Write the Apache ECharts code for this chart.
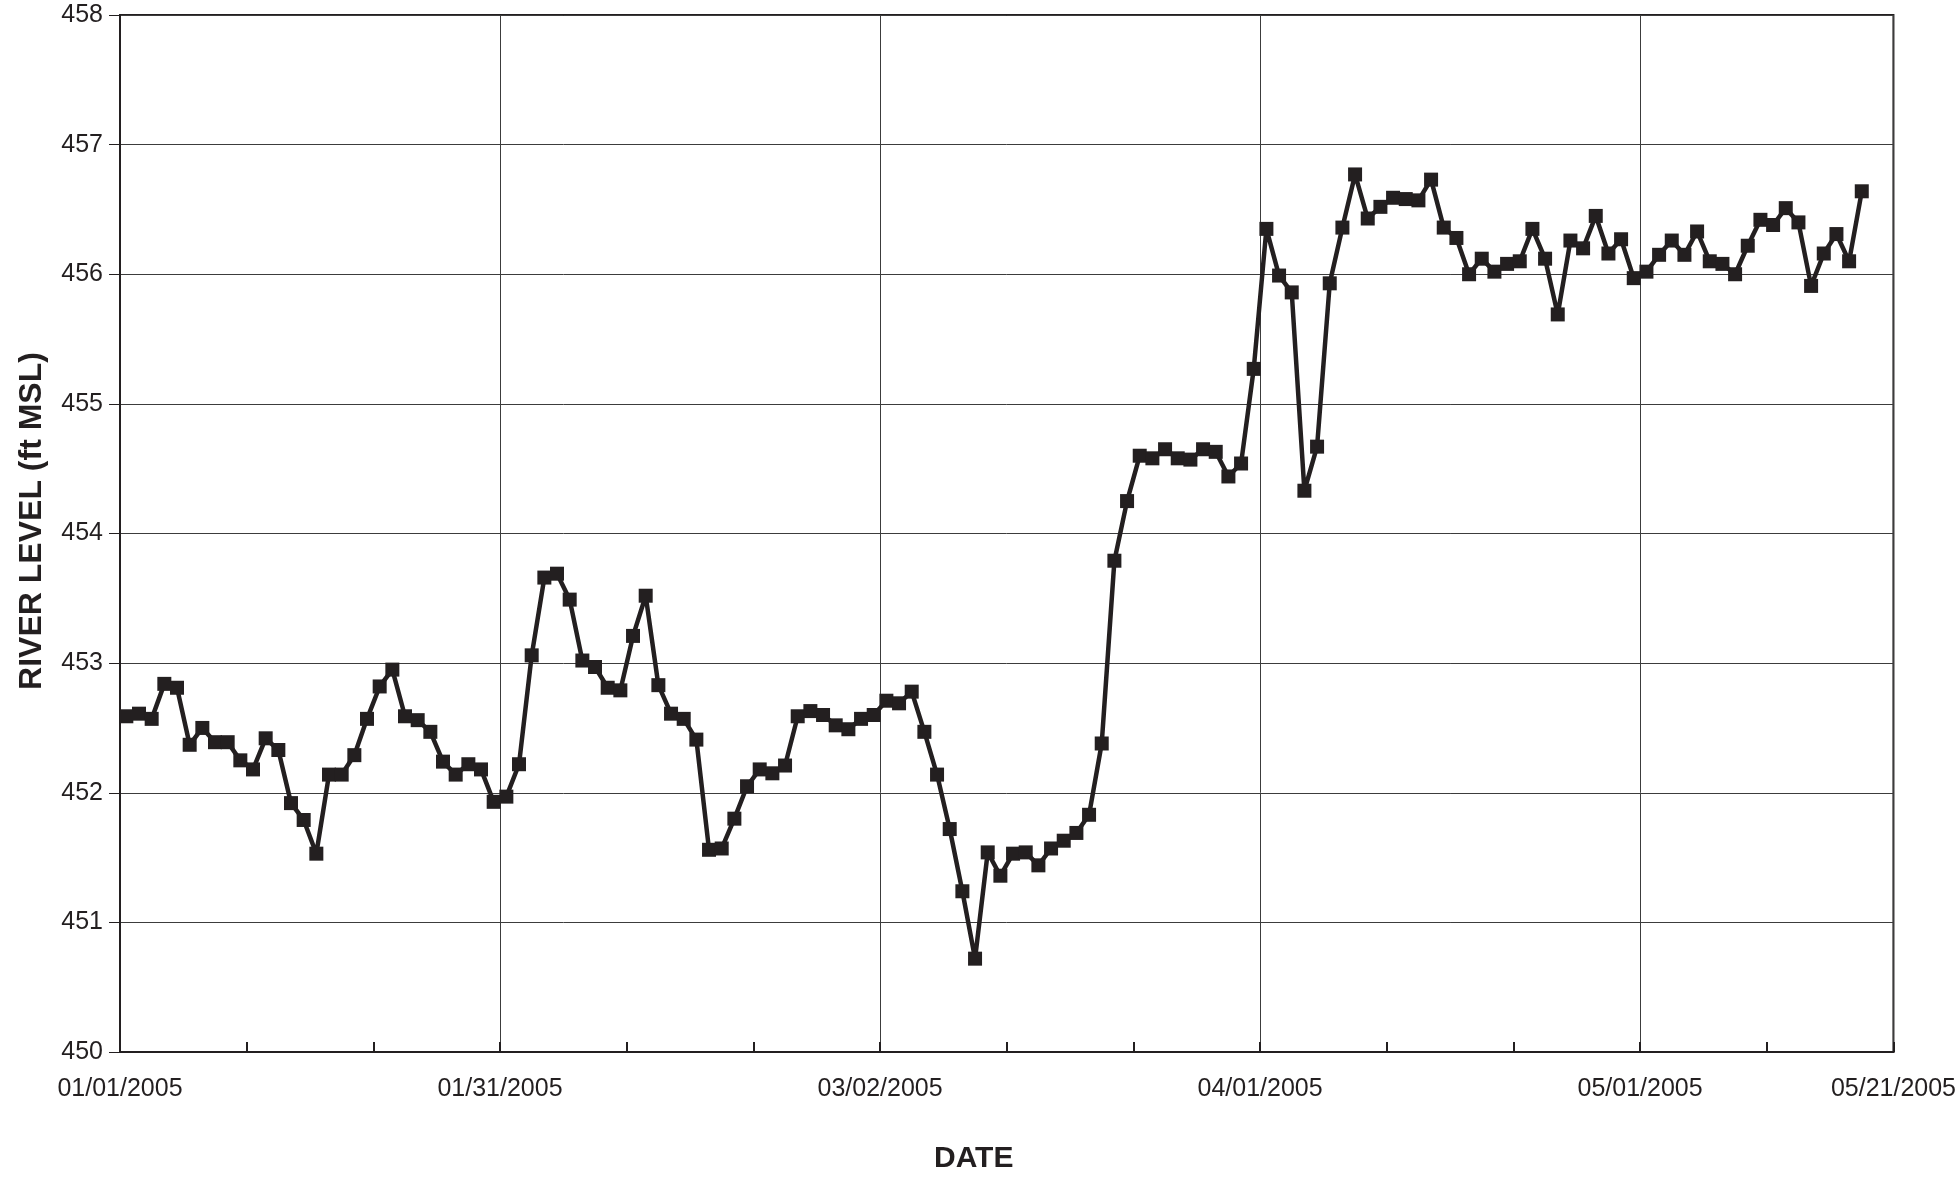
<!DOCTYPE html>
<html>
<head>
<meta charset="utf-8">
<title>River Level</title>
<script src="https://cdn.jsdelivr.net/npm/echarts@6/dist/echarts.min.js"></script>
<style>
  html, body { margin: 0; padding: 0; background: #ffffff; overflow: hidden; }
  #chart { width: 1959px; height: 1179px; }
</style>
</head>
<body>
<div id="chart"></div>
<script>
// Daily river level readings (ft MSL), one value per day starting 01/01/2005
const janLevels = [452.59, 452.61, 452.57, 452.84, 452.81, 452.37, 452.50, 452.39, 452.39, 452.25,
                   452.18, 452.42, 452.33, 451.92, 451.79, 451.53, 452.14, 452.14, 452.29, 452.57,
                   452.82, 452.95, 452.59, 452.56, 452.47, 452.24, 452.14, 452.22, 452.18, 451.93,
                   451.97];
const febLevels = [452.22, 453.06, 453.66, 453.69, 453.49, 453.02, 452.97, 452.81, 452.79, 453.21,
                   453.52, 452.83, 452.61, 452.57, 452.41, 451.56, 451.57, 451.80, 452.05, 452.18,
                   452.15, 452.21, 452.59, 452.63, 452.60, 452.52, 452.49, 452.57];
const marLevels = [452.60, 452.71, 452.69, 452.78, 452.47, 452.14, 451.72, 451.24, 450.72, 451.54,
                   451.36, 451.53, 451.54, 451.44, 451.57, 451.63, 451.69, 451.83, 452.38, 453.79,
                   454.25, 454.60, 454.58, 454.65, 454.58, 454.57, 454.65, 454.63, 454.44, 454.54,
                   455.27];
const aprLevels = [456.35, 455.99, 455.86, 454.33, 454.67, 455.93, 456.36, 456.77, 456.43, 456.52,
                   456.59, 456.58, 456.57, 456.73, 456.36, 456.28, 456.00, 456.12, 456.02, 456.08,
                   456.10, 456.35, 456.12, 455.69, 456.26, 456.20, 456.45, 456.16, 456.27, 455.97];
const mayLevels = [456.02, 456.15, 456.26, 456.15, 456.33, 456.10, 456.08, 456.00, 456.22, 456.42,
                   456.38, 456.51, 456.40, 455.91, 456.16, 456.31, 456.10, 456.64];

// Date axis: days since 01/01/2005, labelled every 30 days plus the end date
const tickDays = [0, 30, 60, 90, 120, 140];
const tickLabels = ['01/01/2005', '01/31/2005', '03/02/2005', '04/01/2005', '05/01/2005', '05/21/2005'];

// Level axis
const levelMin = 450;
const levelMax = 458;

const levels = [].concat(janLevels, febLevels, marLevels, aprLevels, mayLevels);
// each reading sits at the middle of its day
const seriesData = levels.map((v, i) => [i + 0.5, v]);

const ink = '#231f20';
const font = '"Liberation Sans", Arial, Helvetica, sans-serif';

const chart = echarts.init(document.getElementById('chart'), null, { renderer: 'canvas' });

chart.setOption({
  animation: false,
  backgroundColor: '#ffffff',
  grid: {
    left: 120, right: 60, top: 15, bottom: 119,
    show: true, borderColor: ink, borderWidth: 2, backgroundColor: 'transparent'
  },
  xAxis: [
    {
      type: 'value',
      min: 0, max: 140, interval: 10,
      name: 'DATE',
      nameLocation: 'middle',
      nameGap: 92,
      nameTextStyle: {
        fontFamily: font, fontSize: 30, fontWeight: 'bold', color: ink,
        padding: [0, 66, 0, 0]
      },
      axisLine: { show: true, lineStyle: { color: ink, width: 2 } },
      axisTick: { show: true, inside: true, length: 10, lineStyle: { color: ink, width: 2 } },
      axisLabel: {
        show: true,
        margin: 25,
        fontFamily: font, fontSize: 25, color: ink,
        formatter: function (val) {
          const k = tickDays.indexOf(Math.round(val));
          return k >= 0 ? tickLabels[k] : '';
        }
      },
      splitLine: { show: false }
    },
    {
      // month gridlines every 30 days
      type: 'value',
      min: 0, max: 140, interval: 30,
      position: 'bottom',
      axisLine: { show: false },
      axisTick: { show: false },
      axisLabel: { show: false },
      splitLine: { show: true, lineStyle: { color: '#3c3c3c', width: 1 } }
    }
  ],
  yAxis: {
    type: 'value',
    min: levelMin, max: levelMax, interval: 1,
    name: 'RIVER LEVEL (ft MSL)',
    nameLocation: 'middle',
    nameGap: 72,
    nameRotate: 90,
    nameTextStyle: {
      fontFamily: font, fontSize: 32, fontWeight: 'bold', color: ink,
      padding: [0, 0, 0, 25]
    },
    axisLine: { show: true, lineStyle: { color: ink, width: 2 } },
    axisTick: { show: true, inside: false, length: 11, lineStyle: { color: ink, width: 1 } },
    axisLabel: {
      margin: 17,
      fontFamily: font, fontSize: 25, color: ink,
      padding: [8, 0, 0, 0]
    },
    splitLine: { show: true, lineStyle: { color: '#3c3c3c', width: 1 } }
  },
  series: [
    {
      type: 'line',
      xAxisIndex: 0,
      data: seriesData,
      symbol: 'rect',
      symbolSize: 14,
      showAllSymbol: true,
      lineStyle: { color: ink, width: 4.5 },
      itemStyle: { color: ink },
      emphasis: { disabled: true },
      z: 5
    }
  ]
});
</script>
</body>
</html>
